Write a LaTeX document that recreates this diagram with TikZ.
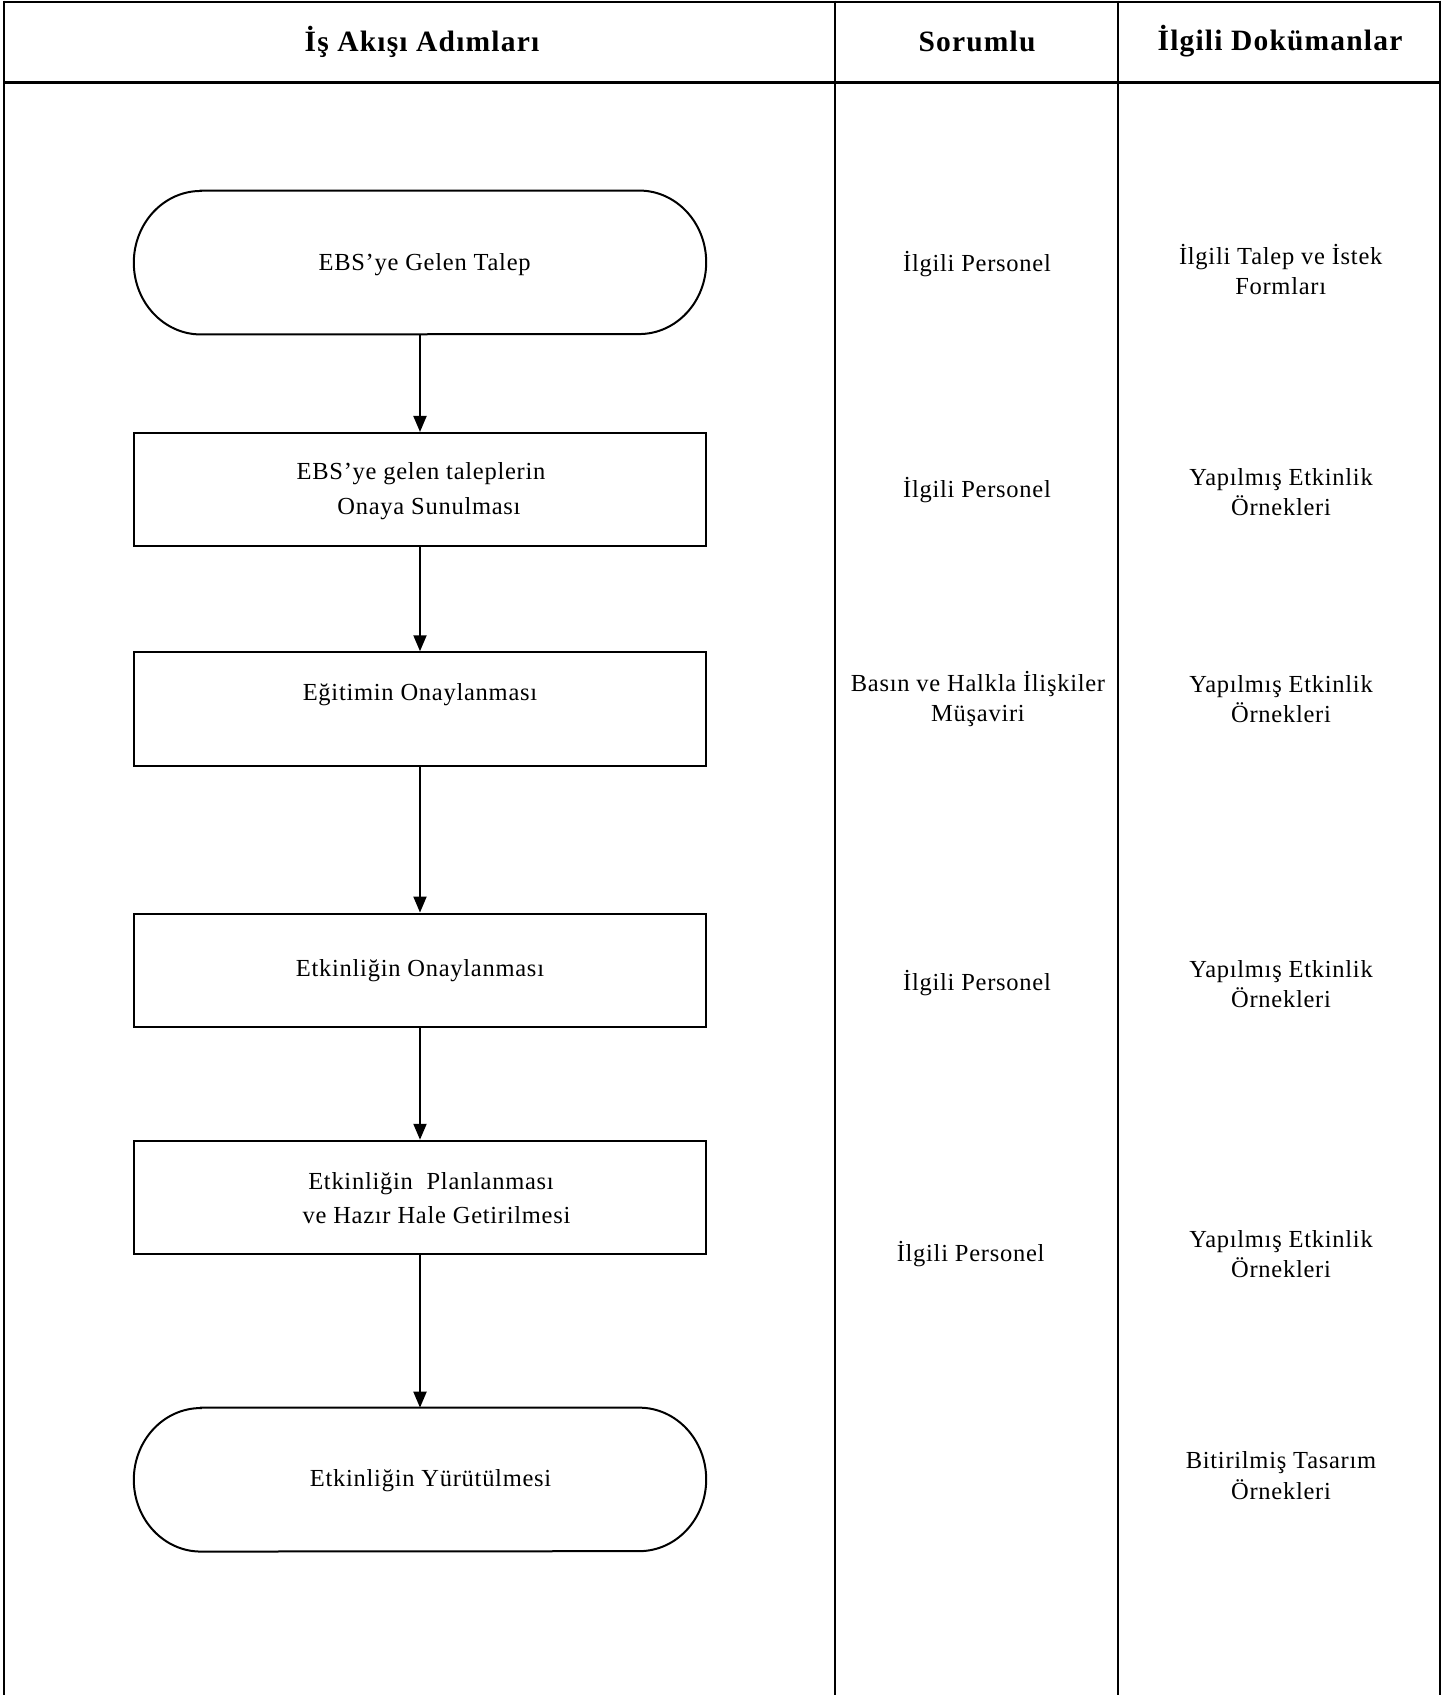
\documentclass[tikz,border=0pt]{standalone}
\usepackage{fontspec}
\setmainfont{Liberation Serif}[LetterSpace=3]
\usetikzlibrary{arrows.meta}
\begin{document}
\begin{tikzpicture}[x=1pt,y=-1pt,
  frame/.style={line width=2pt},
  stepbox/.style={draw, line width=2pt, minimum width=572pt, minimum height=113.5pt, inner sep=0pt},
  termshape/.style={minimum width=572pt, minimum height=143.5pt, inner sep=0pt},
  termline/.style={line width=2pt},
  flowtext/.style={font=\fontsize{24.5}{34.5}\selectfont, align=center, inner sep=0pt},
  coltext/.style={font=\fontsize{24.5}{30.5}\selectfont, align=center, inner sep=0pt},
  headtext/.style={font=\fontsize{29.5}{32}\selectfont\bfseries\addfontfeature{LetterSpace=4}, inner sep=0pt},
  flowarrow/.style={line width=2pt, -{Triangle[length=16pt,width=13pt]}}
]
\useasboundingbox (0,0) rectangle (1451,1695);

% table frame
\draw[frame] (4,1.5) -- (1440,1.5);
\draw[line width=3pt] (4,82) -- (1440,82);
\draw[frame] (4,0.5) -- (4,1695);
\draw[frame] (835,0.5) -- (835,1695);
\draw[frame] (1118,0.5) -- (1118,1695);
\draw[frame] (1440,0.5) -- (1440,1695);

% headers
\node[headtext] (h1) at (422,41.5) {İş Akışı Adımları};
\node[headtext] (h2) at (977,41.5) {Sorumlu};
\node[headtext] (h3) at (1280,41.5) {İlgili Dokümanlar};

% flow shapes
\node[termshape] (t1) at (420,262.5) {};
\node[stepbox] (b2) at (420,489.7) {};
\node[stepbox] (b3) at (420,709) {};
\node[stepbox] (b4) at (420,970.3) {};
\node[stepbox] (b5) at (420,1197.5) {};
\node[termshape] (t2) at (420,1479.6) {};

\draw[termline] ([xshift=67pt]t1.north west) -- ([xshift=-67pt]t1.north east)
  arc[start angle=90, end angle=-90, x radius=67pt, y radius=71.75pt]
  -- ([xshift=67pt]t1.south west)
  arc[start angle=270, end angle=90, x radius=67pt, y radius=71.75pt] -- cycle;
\draw[termline] ([xshift=67pt]t2.north west) -- ([xshift=-67pt]t2.north east)
  arc[start angle=90, end angle=-90, x radius=67pt, y radius=71.75pt]
  -- ([xshift=67pt]t2.south west)
  arc[start angle=270, end angle=90, x radius=67pt, y radius=71.75pt] -- cycle;

% flow texts
\node[flowtext] (t1txt) at (424.6,264.5) {EBS’ye Gelen Talep};
\node[flowtext] (b2txt) at (421,491) {EBS’ye gelen taleplerin\\\hspace*{16pt}Onaya Sunulması};
\node[flowtext] (b3txt) at (420,695) {Eğitimin Onaylanması};
\node[flowtext] (b4txt) at (420,971) {Etkinliğin Onaylanması};
\node[flowtext] (b5txt) at (431,1198) {Etkinliğin~ Planlanması\\\hspace*{11pt}ve Hazır Hale Getirilmesi};
\node[flowtext] (t2txt) at (430.6,1481) {Etkinliğin Yürütülmesi};

% connectors
\draw[flowarrow] (t1.south) -- (b2.north);
\draw[flowarrow] (b2.south) -- (b3.north);
\draw[flowarrow] (b3.south) -- (b4.north);
\draw[flowarrow] (b4.south) -- (b5.north);
\draw[flowarrow] (b5.south) -- (t2.north);

% responsible column
\node[coltext] (r1) at (977,264) {İlgili Personel};
\node[coltext] (r2) at (977,490) {İlgili Personel};
\node[coltext] (r3) at (978,699) {Basın ve Halkla İlişkiler\\Müşaviri};
\node[coltext] (r4) at (977,983) {İlgili Personel};
\node[coltext] (r5) at (970.6,1254) {İlgili Personel};

% documents column
\node[coltext] (d1) at (1280.7,269.5) {İlgili Talep ve İstek\\Formları};
\node[coltext] (d2) at (1281,492) {Yapılmış Etkinlik\\Örnekleri};
\node[coltext] (d3) at (1281,699) {Yapılmış Etkinlik\\Örnekleri};
\node[coltext] (d4) at (1281,984) {Yapılmış Etkinlik\\Örnekleri};
\node[coltext] (d5) at (1281,1254) {Yapılmış Etkinlik\\Örnekleri};
\node[coltext] (d6) at (1281,1475.5) {Bitirilmiş Tasarım\\Örnekleri};
\end{tikzpicture}
\end{document}
